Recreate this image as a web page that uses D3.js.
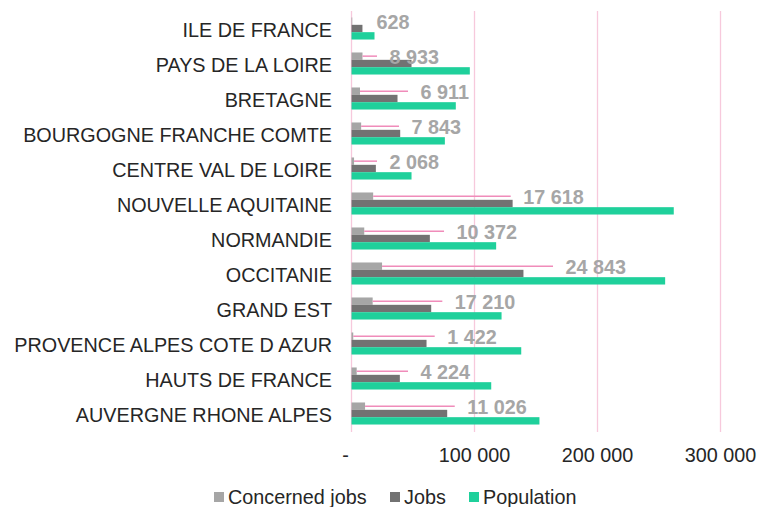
<!DOCTYPE html>
<html>
<head>
<meta charset="utf-8">
<script src="https://cdn.jsdelivr.net/npm/d3@7"></script>
<style>
  html, body { margin: 0; padding: 0; background: #fff; }
  svg { display: block; font-family: "Liberation Sans", Arial, sans-serif; }
</style>
</head>
<body>
<svg id="chart" width="772" height="507"></svg>
<script>
// ---- data ----
const categories = [
  "ILE DE FRANCE", "PAYS DE LA LOIRE", "BRETAGNE", "BOURGOGNE FRANCHE COMTE",
  "CENTRE VAL DE LOIRE", "NOUVELLE AQUITAINE", "NORMANDIE", "OCCITANIE",
  "GRAND EST", "PROVENCE ALPES COTE D AZUR", "HAUTS DE FRANCE", "AUVERGNE RHONE ALPES"
];
const concernedJobs = [628, 8933, 6911, 7843, 2068, 17618, 10372, 24843, 17210, 1422, 4224, 11026];
const jobs = [8900, 48800, 37400, 39600, 19800, 131000, 63700, 139800, 64800, 61000, 39300, 77800];
const population = [18700, 96200, 84800, 75900, 48800, 262000, 117600, 255000, 122000, 138000, 113600, 152800];
const seriesNames = ["Concerned jobs", "Jobs", "Population"];
const tickValues = [0, 100000, 200000, 300000];
// where each data label was dragged to (value units, left edge of label)
const labelAnchor = [20300, 30900, 56100, 48800, 30900, 139600, 85400, 174000, 84000, 77800, 56100, 94100];

// ---- layout ----
const colors = ["#a6a6a6", "#727272", "#1fd09b"];
const svg = d3.select("#chart");
const x = d3.scaleLinear().domain([0, 300000]).range([351.5, 720.5]);
const y = d3.scaleBand().domain(categories).range([11, 431]).paddingInner(0.37).paddingOuter(0.185);
const inner = d3.scaleBand().domain(seriesNames).range([0, y.bandwidth()]);
const fontSize = 19.8;

// gridlines
svg.append("g").selectAll("line").data(tickValues).join("line")
  .attr("x1", d => x(d)).attr("x2", d => x(d))
  .attr("y1", 11).attr("y2", 432)
  .attr("stroke", "#f7c9dc").attr("stroke-width", 1.3);

// bars
const rows = categories.map((c, i) => ({ c, vals: [concernedJobs[i], jobs[i], population[i]] }));
const g = svg.append("g");
rows.forEach((r, i) => {
  r.vals.forEach((v, k) => {
    g.append("rect")
      .attr("x", x(0))
      .attr("y", y(r.c) + inner(seriesNames[k]))
      .attr("width", Math.max(0, x(v) - x(0)))
      .attr("height", inner.bandwidth())
      .attr("fill", colors[k]);
  });
});

// leader lines + labels
const fmt = v => d3.format(",")(v).replace(/,/g, " ");
rows.forEach((r, i) => {
  const cy = y(r.c) + inner(seriesNames[0]) + inner.bandwidth() / 2;
  const lx = x(labelAnchor[i]);
  const barEnd = x(concernedJobs[i]);
  const leaderEnd = lx - 12.5;
  if (leaderEnd - barEnd > 13) {
    svg.append("line")
      .attr("x1", barEnd).attr("x2", leaderEnd)
      .attr("y1", cy).attr("y2", cy)
      .attr("stroke", "#f08cba").attr("stroke-width", 1.5);
  }
  svg.append("text")
    .attr("x", lx).attr("y", cy + 1)
    .attr("dominant-baseline", "central")
    .attr("font-size", fontSize).attr("font-weight", "bold")
    .attr("fill", "#a6a6a6")
    .text(fmt(concernedJobs[i]));
});

// category labels
svg.append("g").selectAll("text").data(categories).join("text")
  .attr("x", 332)
  .attr("y", d => y(d) + y.bandwidth() / 2 + 1)
  .attr("text-anchor", "end")
  .attr("dominant-baseline", "central")
  .attr("font-size", fontSize)
  .attr("fill", "#262626")
  .text(d => d);

// x-axis tick labels
svg.append("g").selectAll("text").data(tickValues).join("text")
  .attr("x", d => d === 0 ? x(d) - 6 : x(d))
  .attr("y", 455)
  .attr("text-anchor", "middle")
  .attr("dominant-baseline", "central")
  .attr("font-size", fontSize)
  .attr("fill", "#262626")
  .text(d => d === 0 ? "-" : fmt(d));

// legend
const legendX = [214, 390, 469];
const lg = svg.append("g");
seriesNames.forEach((name, k) => {
  lg.append("rect").attr("x", legendX[k]).attr("y", 492).attr("width", 10).attr("height", 10).attr("fill", colors[k]);
  lg.append("text").attr("x", legendX[k] + 14).attr("y", 497)
    .attr("dominant-baseline", "central")
    .attr("font-size", fontSize).attr("fill", "#262626").text(name);
});
</script>
</body>
</html>
